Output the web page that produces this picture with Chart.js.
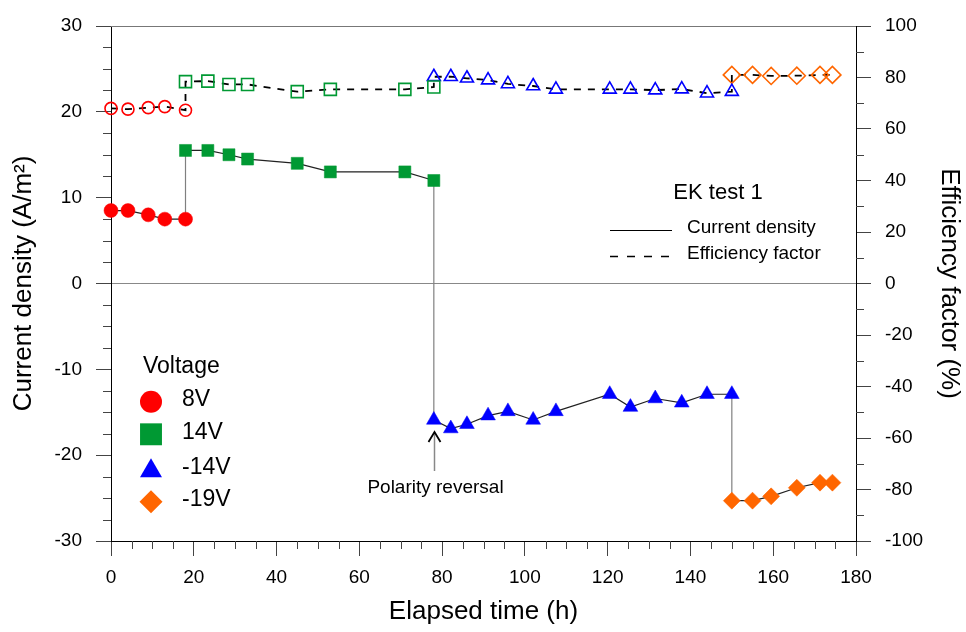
<!DOCTYPE html>
<html>
<head>
<meta charset="utf-8">
<title>EK test 1</title>
<script src="https://cdn.jsdelivr.net/npm/chart.js@4.4.1/dist/chart.umd.min.js"></script>
<style>
  html, body { margin: 0; padding: 0; background: #fff; }
  #chart { display: block; }
</style>
</head>
<body>
<canvas id="chart" width="966" height="632"></canvas>
<script>
// values
const hours8V = [0, 4.1, 9.0, 13.0, 18.0];
const current8V = [8.5, 8.5, 8.0, 7.5, 7.5];
const efficiency8V = [68.0, 67.7, 68.3, 68.7, 67.3];

const hours14V = [18.0, 23.4, 28.5, 33.0, 45.0, 53.0, 71.0, 78.0];
const current14V = [15.5, 15.5, 15.0, 14.5, 14.0, 13.0, 13.0, 12.0];
const efficiency14V = [78.4, 78.6, 77.3, 77.3, 74.5, 75.4, 75.4, 76.3];

const hoursMinus14V = [78.0, 82.1, 86.0, 91.1, 95.9, 102.0, 107.5, 120.5, 125.5, 131.5, 137.9, 144.0, 150.0];
const currentMinus14V = [-15.9, -16.9, -16.4, -15.4, -14.9, -15.9, -14.9, -12.9, -14.4, -13.4, -13.9, -12.9, -12.9];
const efficiencyMinus14V = [80.3, 80.3, 79.7, 79.0, 77.5, 76.7, 75.4, 75.4, 75.4, 75.1, 75.5, 73.9, 74.5];

const hoursMinus19V = [150.0, 155.0, 159.5, 165.7, 171.3, 174.3];
const currentMinus19V = [-25.3, -25.3, -24.8, -23.8, -23.2, -23.2];
const efficiencyMinus19V = [81.0, 81.0, 80.6, 80.7, 81.0, 81.0];

const voltageLabels = ['8V', '14V', '-14V', '-19V'];
const voltageColors = ['#ff0000', '#009933', '#0000ff', '#ff6600'];

const FONT = '"Liberation Sans", Arial, Helvetica, sans-serif';
Chart.defaults.font.family = FONT;
Chart.defaults.color = '#000';

function pts(xs, ys) {
    return xs.map((x, i) => ({ x: x, y: ys[i] }));
}

const groups = [
    { hours: hours8V, current: current8V, eff: efficiency8V, style: 'circle', rFill: 7, rOpen: 6 },
    { hours: hours14V, current: current14V, eff: efficiency14V, style: 'rect', rFill: 8.5, rOpen: 8.5 },
    { hours: hoursMinus14V, current: currentMinus14V, eff: efficiencyMinus14V, style: 'triangle', rFill: 8.5, rOpen: 7.5 },
    { hours: hoursMinus19V, current: currentMinus19V, eff: efficiencyMinus19V, style: 'rectRot', rFill: 8.5, rOpen: 8.5 }
];

const markerSets = [];
groups.forEach((g, i) => {
    markerSets.push({
        label: voltageLabels[i] + ' current',
        data: pts(g.hours, g.current),
        yAxisID: 'y',
        showLine: false,
        pointStyle: g.style,
        pointRadius: g.rFill,
        pointBackgroundColor: voltageColors[i],
        pointBorderColor: voltageColors[i],
        pointBorderWidth: 0.5,
        clip: false
    });
    markerSets.push({
        label: voltageLabels[i] + ' efficiency',
        data: pts(g.hours, g.eff),
        yAxisID: 'y2',
        showLine: false,
        pointStyle: g.style,
        pointRadius: g.rOpen,
        pointBackgroundColor: 'rgba(0,0,0,0)',
        pointBorderColor: voltageColors[i],
        pointBorderWidth: 1.6,
        clip: false
    });
});

// one continuous line per quantity, built from the arrays above
const allHours = groups.flatMap(g => g.hours);
const allCurrent = groups.flatMap(g => g.current);
const allEff = groups.flatMap(g => g.eff);

const currentLine = {
    label: 'Current density',
    data: pts(allHours, allCurrent),
    yAxisID: 'y',
    showLine: true,
    pointRadius: 0,
    borderWidth: 1.2,
    borderColor: '#222',
    segment: {
        borderColor: c => c.p0.parsed.x === c.p1.parsed.x ? '#808080' : '#222'
    },
    clip: false
};
const effLine = {
    label: 'Efficiency factor',
    data: pts(allHours, allEff),
    yAxisID: 'y2',
    showLine: true,
    pointRadius: 0,
    borderWidth: 1.8,
    borderColor: '#000',
    borderDash: [7, 7],
    clip: false
};

const extras = {
    id: 'extras',
    afterDraw(chart) {
        const { ctx, chartArea: a, scales } = chart;
        ctx.save();
        // top frame line
        ctx.strokeStyle = '#777';
        ctx.lineWidth = 1.2;
        ctx.beginPath();
        ctx.moveTo(a.left, a.top + 0.5);
        ctx.lineTo(a.right, a.top + 0.5);
        ctx.stroke();

        // minor ticks
        ctx.strokeStyle = '#444';
        ctx.lineWidth = 1;
        ctx.beginPath();
        for (let v = 0; v <= 180; v += 5) {
            if (v % 20) {
                const x = Math.round(scales.x.getPixelForValue(v)) + 0.5;
                ctx.moveTo(x, a.bottom);
                ctx.lineTo(x, a.bottom + 8);
            }
        }
        for (let v = -30; v <= 30; v += 2.5) {
            if (v % 10) {
                const y = Math.round(scales.y.getPixelForValue(v)) + 0.5;
                ctx.moveTo(a.left - 8, y);
                ctx.lineTo(a.left, y);
            }
        }
        for (let v = -100; v <= 100; v += 10) {
            if (v % 20) {
                const y = Math.round(scales.y2.getPixelForValue(v)) + 0.5;
                ctx.moveTo(a.right, y);
                ctx.lineTo(a.right + 8, y);
            }
        }
        ctx.stroke();

        // line-style legend
        ctx.fillStyle = '#000';
        ctx.textBaseline = 'middle';
        ctx.textAlign = 'center';
        ctx.font = '22px ' + FONT;
        ctx.fillText('EK test 1', 718, 193);
        ctx.textAlign = 'left';
        ctx.font = '19px ' + FONT;
        ctx.fillText('Current density', 687, 228);
        ctx.fillText('Efficiency factor', 687, 254);
        ctx.strokeStyle = '#000';
        ctx.lineWidth = 1;
        ctx.beginPath();
        ctx.moveTo(610, 230.5);
        ctx.lineTo(672, 230.5);
        ctx.stroke();
        ctx.lineWidth = 1.5;
        ctx.setLineDash([8, 9]);
        ctx.beginPath();
        ctx.moveTo(610, 256.5);
        ctx.lineTo(672, 256.5);
        ctx.stroke();
        ctx.setLineDash([]);

        // voltage legend
        ctx.font = '23px ' + FONT;
        ctx.fillText('Voltage', 143, 367);
        const legendY = [400, 433, 468, 500];
        const markY = [401.7, 434.3, 471, 501.7];
        const markR = [11, 15.5, 12.7, 11.5];
        groups.forEach((g, i) => {
            ctx.fillStyle = voltageColors[i];
            ctx.strokeStyle = voltageColors[i];
            Chart.helpers.drawPoint(ctx, { pointStyle: g.style, radius: markR[i], borderWidth: 0, rotation: 0 }, 151, markY[i]);
            ctx.fillStyle = '#000';
            ctx.fillText(voltageLabels[i], 182, legendY[i]);
        });

        // polarity reversal arrow
        const ax = Math.round(scales.x.getPixelForValue(hoursMinus14V[0])) + 0.5;
        ctx.strokeStyle = '#888';
        ctx.lineWidth = 1.5;
        ctx.beginPath();
        ctx.moveTo(ax, 471);
        ctx.lineTo(ax, 433);
        ctx.stroke();
        ctx.strokeStyle = '#000';
        ctx.lineWidth = 1.8;
        ctx.beginPath();
        ctx.moveTo(ax - 6, 442);
        ctx.lineTo(ax, 432);
        ctx.lineTo(ax + 6, 442);
        ctx.stroke();
        ctx.fillStyle = '#000';
        ctx.textAlign = 'center';
        ctx.font = '19px ' + FONT;
        ctx.fillText('Polarity reversal', ax + 1, 488);
        ctx.restore();
    }
};

const tickFont = { size: 19 };
const titleFont = { size: 26 };

new Chart(document.getElementById('chart'), {
    type: 'scatter',
    data: {
        datasets: markerSets.concat([currentLine, effLine])
    },
    options: {
        responsive: false,
        animation: false,
        events: [],
        layout: { padding: { top: 26, left: 0, right: 0, bottom: 0 } },
        plugins: {
            legend: { display: false },
            tooltip: { enabled: false }
        },
        scales: {
            x: {
                type: 'linear',
                position: 'bottom',
                min: 0,
                max: 180,
                afterFit: s => { s.height = 91; },
                ticks: { stepSize: 20, font: tickFont, padding: 10, color: '#000' },
                grid: { drawOnChartArea: false, drawTicks: true, tickLength: 15, tickColor: '#444' },
                border: { color: '#000', width: 1 },
                title: { display: true, text: 'Elapsed time (h)', font: titleFont, padding: { top: 0, bottom: 5 } }
            },
            y: {
                type: 'linear',
                position: 'left',
                min: -30,
                max: 30,
                afterFit: s => { s.width = 111; },
                ticks: { stepSize: 10, font: tickFont, padding: 14, color: '#000' },
                grid: {
                    drawOnChartArea: true,
                    drawTicks: true,
                    tickLength: 15,
                    tickColor: '#444',
                    color: c => (c.tick && c.tick.value === 0) ? '#888' : 'rgba(0,0,0,0)'
                },
                border: { color: '#000', width: 1 },
                title: { display: true, text: 'Current density (A/m²)', font: titleFont, padding: { top: 8, bottom: 0 } }
            },
            y2: {
                type: 'linear',
                position: 'right',
                min: -100,
                max: 100,
                afterFit: s => { s.width = 110; },
                ticks: { stepSize: 20, font: tickFont, padding: 14, color: '#000' },
                grid: { drawOnChartArea: false, drawTicks: true, tickLength: 15, tickColor: '#444' },
                border: { color: '#000', width: 1 },
                title: { display: true, text: 'Efficiency factor (%)', font: titleFont, padding: { top: 1, bottom: 0 } }
            }
        }
    },
    plugins: [extras]
});
</script>
</body>
</html>
